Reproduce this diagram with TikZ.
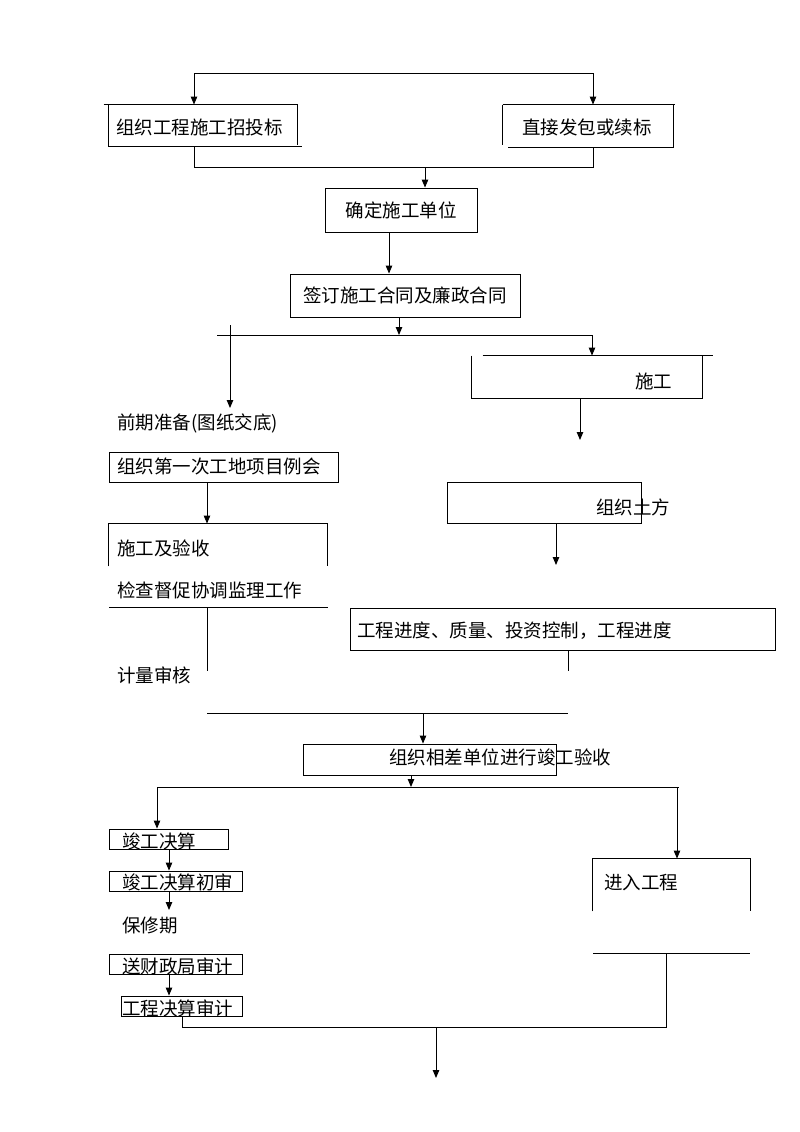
\documentclass[tikz,border=0pt]{standalone}
\usepackage{fontspec}
\newfontfamily\cjk{Noto Sans CJK SC}
\usetikzlibrary{
  arrows.meta,
  positioning
}

\begin{document}
\begin{tikzpicture}[
      x=1pt,y=-1pt,
      stage/.style={
         rectangle,
         draw=black,
         inner sep=0pt,
         font=\cjk\fontsize{18.5}{20}\selectfont,
      },
      shell/.style={
         rectangle,
         inner sep=0pt,
      },
      boxtext/.style={
         inner sep=0pt,
         anchor=west,
         font=\cjk\fontsize{18.5}{20}\selectfont,
      },
      point/.style={coordinate},>={Triangle[length=8pt,width=6.5pt]},line width=0.9pt,
      tip/.style={->,shorten >=0pt},
    ]
    \useasboundingbox (0,0) rectangle (800,1132);
    % boxes
    \node (zbiao) [shell, minimum width=188, minimum height=41] at (203,125.5) {};
    \node (zjfb) [shell, minimum width=170, minimum height=42] at (588,126) {};
    \node (qddw) [stage, minimum width=152, minimum height=44] at (401,210) {确定施工单位};
    \node (qdht) [stage, minimum width=230, minimum height=43] at (405,295.5) {签订施工合同及廉政合同};
    \node (sg) [shell, minimum width=230, minimum height=42] at (587,377) {};
    \node (lhui) [stage, minimum width=229, minimum height=30] at (223.5,467) {};
    \node (sgys) [shell, minimum width=218, minimum height=42] at (218,545) {};
    \node (zztf) [stage, minimum width=194, minimum height=41] at (544,502.5) {};
    \node (gcjd) [stage, minimum width=425, minimum height=42] at (562.5,629) {};
    \node (jgys) [stage, minimum width=253, minimum height=31] at (429.5,759.5) {};
    \node (jgjs) [stage, minimum width=119, minimum height=20] at (168.5,839) {};
    \node (jgcs) [stage, minimum width=133, minimum height=20] at (175.5,881) {};
    \node (czsj) [stage, minimum width=133, minimum height=20] at (175.5,964) {};
    \node (gcsj) [stage, minimum width=121, minimum height=20] at (181.5,1006) {};
    \node (jrgc) [shell, minimum width=157, minimum height=52] at (671.5,885) {};
    % texts
    \node (zbiaot) [boxtext] at (116,127) {组织工程施工招投标};
    \node (zjfbt) [boxtext] at (522,127) {直接发包或续标};
    \node (sgt) [boxtext] at (635,381) {施工};
    \node (qqzb) [boxtext] at (117,423) {前期准备(图纸交底)};
    \node (lhuit) [boxtext] at (117,466) {组织第一次工地项目例会};
    \node (zztft) [boxtext] at (596,507) {组织土方};
    \node (sgyst) [boxtext] at (117,548) {施工及验收};
    \node (jcdc) [boxtext] at (117,590) {检查督促协调监理工作};
    \node (gcjdt) [boxtext] at (357,631) {工程进度、质量、投资控制，工程进度};
    \node (jlsh) [boxtext] at (117,675) {计量审核};
    \node (jgyst) [boxtext] at (389,757) {组织相差单位进行竣工验收};
    \node (jgjst) [boxtext] at (122,841) {竣工决算};
    \node (jgcst) [boxtext] at (122,882) {竣工决算初审};
    \node (bxq) [boxtext] at (122,925) {保修期};
    \node (czsjt) [boxtext] at (122,966) {送财政局审计};
    \node (gcsjt) [boxtext] at (122,1008) {工程决算审计};
    \node (jrgct) [boxtext] at (604,883) {进入工程};
    % open outlines
    \draw ([xshift=-5pt]zbiao.north west) -- (zbiao.north east) -- ([yshift=1pt]zbiao.south east);
    \draw (zbiao.north west) -- ([yshift=-1pt]zbiao.south west);
    \draw (zbiao.south west) -- ([xshift=5pt]zbiao.south east);
    \draw (zjfb.north west) -- ([xshift=2pt]zjfb.north east);
    \draw (zjfb.north east) -- (zjfb.south east) -- ([xshift=5pt]zjfb.south west);
    \draw (zjfb.north west) -- ([yshift=2pt]zjfb.south west);
    \draw ([xshift=11pt]sg.north west) -- ([xshift=11pt]sg.north east);
    \draw (sg.north west) -- (sg.south west) -- (sg.south east) -- (sg.north east);
    \draw (sgys.south west) -- (sgys.north west) -- (sgys.north east) -- (sgys.south east);
    \draw (jrgc.south west) -- (jrgc.north west) -- (jrgc.north east) -- (jrgc.south east);
    % points
    \node (t1) [point] at (194,73) {};
    \node (t2) [point] at (593,73) {};
    \node (b1) [point] at (194,167) {};
    \node (b2) [point] at (593,167) {};
    \node (b3) [point] at (425,167) {};
    \node (q1) [point] at (389,232) {};
    \node (s0) [point] at (399,317) {};
    \node (s1) [point] at (217,335) {};
    \node (s2) [point] at (592,335) {};
    \node (s3) [point] at (230,325) {};
    \node (s4) [point] at (230,408) {};
    \node (g1) [point] at (580,440) {};
    \node (m1) [point] at (207,482) {};
    \node (m2) [point] at (109,607) {};
    \node (m3) [point] at (328,607) {};
    \node (m4) [point] at (207,671) {};
    \node (m6) [point] at (207,713) {};
    \node (m7) [point] at (568,713) {};
    \node (m8) [point] at (568,671) {};
    \node (m9) [point] at (423,713) {};
    \node (r1) [point] at (556,565) {};
    \node (k0) [point] at (411,787) {};
    \node (k1) [point] at (157,787) {};
    \node (k2) [point] at (679,787) {};
    \node (k3) [point] at (677,787) {};
    \node (v1) [point] at (169,849) {};
    \node (v2) [point] at (169,910) {};
    \node (w1) [point] at (593,953) {};
    \node (w2) [point] at (750,953) {};
    \node (u1) [point] at (182,1027) {};
    \node (u2) [point] at (666,1027) {};
    \node (u3) [point] at (436,1027) {};
    \node (u4) [point] at (436,1078) {};
    % connectors
    \draw[<->] (zbiao.north -| t1) -- (t1) -- (t2) -- (zjfb.north -| t2);
    \draw (zbiao.south -| b1) -- (b1) -- (b2) -- (zjfb.south -| b2);
    \draw[tip] (b3) -- (b3 |- qddw.north);
    \draw[tip] (q1) -- (q1 |- qdht.north);
    \draw[tip] (s0) -- (s0 |- s1);
    \draw (s1) -- (s2);
    \draw[tip] (s2) -- (s2 |- sg.north);
    \draw[tip] (s3) -- (s4);
    \draw[tip] (sg.south -| g1) -- (g1);
    \draw[tip] (m1) -- (m1 |- sgys.north);
    \draw (m2) -- (m3);
    \draw (m2 -| m1) -- (m4);
    \draw[tip] (zztf.south -| r1) -- (r1);
    \draw (gcjd.south -| m8) -- (m8);
    \draw (m6) -- (m7);
    \draw[tip] (m9) -- (m9 |- jgys.north);
    \draw[tip] (jgys.south -| k0) -- (k0);
    \draw (k1) -- (k2);
    \draw[tip] (k1) -- (k1 |- jgjs.north);
    \draw[tip] (k3) -- (k3 |- jrgc.north);
    \draw[tip] (v1) -- (v1 |- jgcs.north);
    \draw[tip] (jgcs.south -| v1) -- (v2);
    \draw[tip] (czsj.south -| v1) -- (v1 |- gcsj.north);
    \draw (w1) -- (w2);
    \draw (gcsj.south -| u1) -- (u1) -- (u2) -- (u2 |- w1);
    \draw[tip] (u3) -- (u4);
\end{tikzpicture}
\end{document}
